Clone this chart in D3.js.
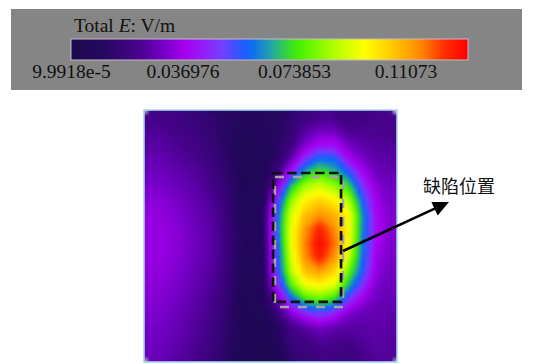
<!DOCTYPE html>
<html>
<head>
<meta charset="utf-8">
<script src="https://cdn.jsdelivr.net/npm/d3@7"></script>
<style>
  body { margin: 0; background: #fff; }
  svg { display: block; }
</style>
</head>
<body>
<svg id="chart" width="536" height="364"></svg>
<script>
// colour bar range and ticks (V/m)
const fieldMin = 9.9918e-5
const fieldMax = 0.1314
const tickValues = [9.9918e-5, 0.036976, 0.073853, 0.11073]
const tickLabels = ['9.9918e-5', '0.036976', '0.073853', '0.11073']

// |E| on an 18 x 18 grid, one row per array, top to bottom (V/m)
const row00 = [.022,.021,.020,.018,.016,.013,.011,.009,.010,.011,.016,.020,.022,.022,.019,.020,.022,.022]
const row01 = [.024,.023,.021,.019,.017,.013,.010,.007,.009,.011,.017,.026,.030,.030,.023,.023,.023,.022]
const row02 = [.026,.025,.023,.021,.018,.014,.010,.006,.008,.012,.020,.033,.040,.040,.031,.027,.025,.024]
const row03 = [.028,.027,.025,.023,.020,.015,.010,.006,.008,.014,.028,.048,.060,.058,.040,.032,.027,.026]
const row04 = [.030,.029,.027,.025,.022,.017,.011,.006,.008,.020,.045,.068,.076,.070,.058,.040,.030,.028]
const row05 = [.032,.031,.029,.027,.023,.018,.011,.006,.009,.034,.070,.087,.092,.085,.074,.049,.034,.030]
const row06 = [.034,.033,.031,.028,.025,.020,.012,.006,.010,.050,.084,.100,.105,.100,.088,.058,.037,.031]
const row07 = [.035,.034,.032,.029,.026,.021,.012,.006,.012,.057,.092,.108,.114,.110,.097,.064,.039,.032]
const row08 = [.036,.035,.033,.030,.027,.022,.013,.007,.012,.058,.095,.114,.126,.115,.098,.063,.040,.032]
const row09 = [.036,.035,.033,.030,.027,.022,.013,.007,.012,.056,.095,.116,.130,.118,.097,.061,.039,.032]
const row10 = [.036,.035,.033,.030,.027,.022,.013,.007,.011,.054,.092,.115,.127,.114,.090,.060,.037,.031]
const row11 = [.035,.034,.032,.029,.026,.021,.012,.006,.011,.052,.088,.108,.113,.105,.080,.057,.035,.030]
const row12 = [.034,.033,.031,.028,.025,.020,.012,.006,.010,.044,.077,.095,.098,.094,.068,.048,.032,.029]
const row13 = [.033,.032,.030,.027,.024,.019,.011,.005,.009,.031,.056,.074,.078,.072,.050,.037,.030,.028]
const row14 = [.032,.031,.029,.026,.023,.018,.010,.005,.007,.018,.034,.045,.050,.045,.033,.029,.028,.027]
const row15 = [.031,.030,.028,.025,.022,.017,.010,.004,.005,.011,.022,.026,.031,.028,.026,.026,.027,.026]
const row16 = [.030,.029,.027,.024,.021,.016,.009,.004,.004,.009,.019,.021,.024,.023,.022,.024,.026,.025]
const row17 = [.029,.028,.026,.023,.020,.015,.009,.004,.004,.007,.016,.018,.020,.020,.019,.022,.025,.024]
const fieldRows = [row00, row01, row02, row03, row04, row05, row06, row07, row08,
                   row09, row10, row11, row12, row13, row14, row15, row16, row17]

const defectLabel = '缺陷位置'

const svg = d3.select('#chart')
const defs = svg.append('defs')
const serif = '"Liberation Serif", "Times New Roman", serif'

// rainbow colour map (fraction of range -> colour)
const mapStops  = [0, 0.08, 0.17, 0.23, 0.29, 0.375, 0.45, 0.5, 0.57, 0.665, 0.74, 0.82, 0.88, 0.94, 1]
const mapColors = ['#1a0a4e', '#25085f', '#48038c', '#7200c4', '#aa00f2', '#7a3cff', '#0a64ff', '#22a0ae',
                   '#40f000', '#b4ff00', '#ffff00', '#ffc000', '#ff8800', '#ff3000', '#ff0000']
const color = d3.scaleLinear()
  .domain(mapStops.map(t => fieldMin + t * (fieldMax - fieldMin)))
  .range(mapColors)
  .clamp(true)

// Legend panel //

svg.append('rect')
  .attr('x', 11).attr('y', 9)
  .attr('width', 511).attr('height', 81)
  .attr('fill', '#858585')

const bar = { x0: 71, x1: 468, y: 39, h: 21 }
const xBar = d3.scaleLinear().domain([fieldMin, fieldMax]).range([bar.x0, bar.x1])

const grad = defs.append('linearGradient').attr('id', 'cbar')
grad.selectAll('stop')
  .data(d3.range(0, 1.0001, 0.02))
  .join('stop')
    .attr('offset', d => d)
    .attr('stop-color', d => color(fieldMin + d * (fieldMax - fieldMin)))

svg.append('rect')
  .attr('x', bar.x0).attr('y', bar.y)
  .attr('width', bar.x1 - bar.x0).attr('height', bar.h)
  .attr('fill', 'url(#cbar)')
  .attr('stroke', '#c6b9c6')
  .attr('stroke-width', 1)

svg.append('g')
  .attr('transform', 'translate(0,' + (bar.y + bar.h) + ')')
  .call(d3.axisBottom(xBar)
    .tickValues(tickValues)
    .tickFormat((d, i) => tickLabels[i])
    .tickSize(0)
    .tickPadding(4))
  .call(g => g.select('.domain').remove())
  .call(g => g.selectAll('text')
    .attr('font-family', serif)
    .attr('font-size', 19.5)
    .attr('fill', '#111'))

const title = svg.append('text')
  .attr('x', 74).attr('y', 32)
  .attr('font-family', serif)
  .attr('font-size', 19.5)
  .attr('fill', '#111')
title.append('tspan').text('Total ')
title.append('tspan').attr('font-style', 'italic').text('E')
title.append('tspan').text(': V/m')

// Field plate //

const nx = fieldRows[0].length, ny = fieldRows.length
const xMap = d3.scaleLinear().domain([0, nx]).range([144, 397])
const yMap = d3.scaleLinear().domain([0, ny]).range([110, 362])
const plateBox = { x: xMap(0), y: yMap(0), w: xMap(nx) - xMap(0), h: yMap(ny) - yMap(0) }

const step = 0.001
const contours = d3.contours()
  .size([nx, ny])
  .thresholds(d3.range(0, fieldMax + step, step))(fieldRows.flat())

// the bands are painted on a coarse canvas, the browser's smooth upscaling softens them
const coarse = 4
const cw = Math.round(plateBox.w / coarse), ch = Math.round(plateBox.h / coarse)
const canvas = document.createElement('canvas')
canvas.width = cw
canvas.height = ch
const ctx = canvas.getContext('2d')
const toCanvas = d3.geoTransform({
  point(x, y) { this.stream.point(x * cw / nx, y * ch / ny) }
})
const canvasPath = d3.geoPath(toCanvas, ctx)
contours.forEach(c => {
  ctx.beginPath()
  canvasPath(c)
  ctx.fillStyle = color(c.value + step / 2)
  ctx.fill()
})

svg.append('image')
  .attr('href', canvas.toDataURL())
  .attr('x', plateBox.x).attr('y', plateBox.y)
  .attr('width', plateBox.w).attr('height', plateBox.h)
  .attr('preserveAspectRatio', 'none')

svg.append('rect')
  .attr('x', plateBox.x).attr('y', plateBox.y)
  .attr('width', plateBox.w).attr('height', plateBox.h)
  .attr('fill', 'none')
  .attr('stroke', '#a8d6ec')
  .attr('stroke-width', 1.6)

// Defect annotation, in grid cells //

const boxShadow = { x0: 9.32, y0: 4.79, x1: 14.16, y1: 14.07 }
const boxMain   = { x0: 9.18, y0: 4.5,  x1: 14.02, y1: 13.71 }
const arrowFrom = [14.16, 10.07]
const arrowTo   = [21.7, 6.57]
const labelAt   = [19.85, 5.95]

const boxRect = (sel, b) => sel
  .attr('x', xMap(b.x0)).attr('y', yMap(b.y0))
  .attr('width', xMap(b.x1) - xMap(b.x0)).attr('height', yMap(b.y1) - yMap(b.y0))
  .attr('fill', 'none')

svg.append('rect').call(boxRect, boxShadow)
  .attr('stroke', '#a4a4a4').attr('stroke-width', 2.4)
  .attr('stroke-dasharray', '9,9')
svg.append('rect').call(boxRect, boxMain)
  .attr('stroke', '#111').attr('stroke-width', 2.7)
  .attr('stroke-dasharray', '9.5,4.5')

const p0 = [xMap(arrowFrom[0]), yMap(arrowFrom[1])]
const p1 = [xMap(arrowTo[0]), yMap(arrowTo[1])]
const ang = Math.atan2(p1[1] - p0[1], p1[0] - p0[0])
const head = { len: 16, half: 7.5 }
const base = [p1[0] - head.len * Math.cos(ang), p1[1] - head.len * Math.sin(ang)]
svg.append('line')
  .attr('x1', p0[0]).attr('y1', p0[1])
  .attr('x2', base[0] + 2 * Math.cos(ang)).attr('y2', base[1] + 2 * Math.sin(ang))
  .attr('stroke', '#000').attr('stroke-width', 2.6)
svg.append('path')
  .attr('d', d3.line()([
    p1,
    [base[0] - head.half * Math.sin(ang), base[1] + head.half * Math.cos(ang)],
    [base[0] + head.half * Math.sin(ang), base[1] - head.half * Math.cos(ang)]
  ]) + 'Z')
  .attr('fill', '#000')

svg.append('text')
  .attr('x', xMap(labelAt[0])).attr('y', yMap(labelAt[1]))
  .attr('font-family', '"Noto Sans CJK SC", sans-serif')
  .attr('font-size', 18)
  .attr('fill', '#111')
  .text(defectLabel)
</script>
</body>
</html>
